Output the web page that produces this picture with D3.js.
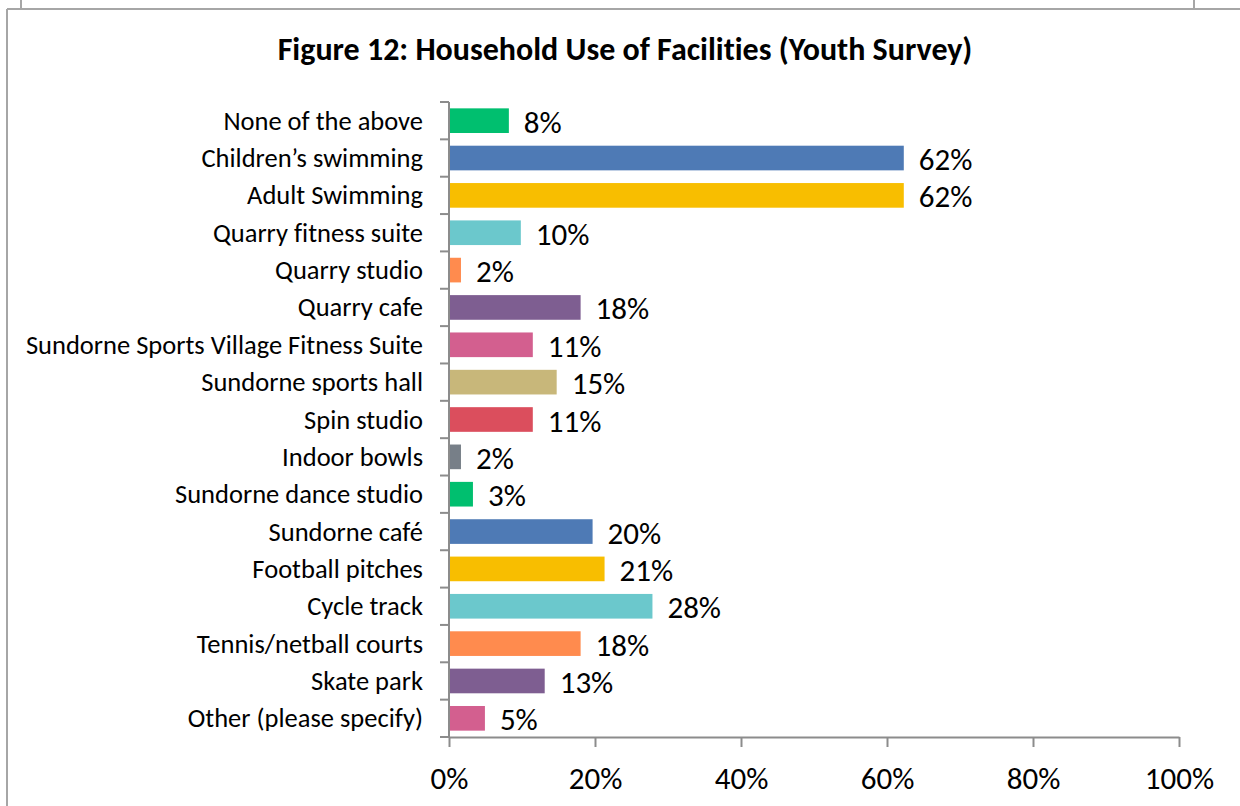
<!DOCTYPE html>
<html>
<head>
<meta charset="utf-8">
<script src="https://cdn.jsdelivr.net/npm/d3@7"></script>
<style>
  html, body { margin: 0; padding: 0; background: #fff; }
  svg { display: block; }
  text { font-family: Carlito, Calibri, "Open Sans", sans-serif; fill: #000; font-variant-ligatures: none; }
</style>
</head>
<body>
<svg id="chart" width="1240" height="806"></svg>
<script>
// Facilities used by the household, share of youth survey respondents (%)
const categories = [
  "None of the above",
  "Children\u2019s swimming",
  "Adult Swimming",
  "Quarry fitness suite",
  "Quarry studio",
  "Quarry cafe",
  "Sundorne Sports Village Fitness Suite",
  "Sundorne sports hall",
  "Spin studio",
  "Indoor bowls",
  "Sundorne dance studio",
  "Sundorne caf\u00e9",
  "Football pitches",
  "Cycle track",
  "Tennis/netball courts",
  "Skate park",
  "Other (please specify)"
];
const values = [8.20, 62.30, 62.30, 9.84, 1.64, 18.03, 11.48, 14.75, 11.48, 1.64, 3.28, 19.67, 21.31, 27.87, 18.03, 13.11, 4.92];
const xTicks = [0, 20, 40, 60, 80, 100];
const palette = ["#00BF6F", "#4E7AB5", "#F8BE00", "#6BC8CC", "#FF8B4E",
                 "#7E5E91", "#D35F8F", "#C8B77A", "#DB4E5D", "#777F88"];
const title = "Figure 12: Household Use of Facilities (Youth Survey)";

const svg = d3.select("#chart");
const frameColor = "#a6a6a6";
const axisColor = "#8c8c8c";
const fontStack = "Carlito, Calibri, 'Open Sans', sans-serif";

// surrounding frame
svg.append("line").attr("x1", 7).attr("x2", 1240).attr("y1", 9).attr("y2", 9)
  .attr("stroke", frameColor).attr("stroke-width", 2);
svg.append("line").attr("x1", 7).attr("x2", 7).attr("y1", 9).attr("y2", 806)
  .attr("stroke", frameColor).attr("stroke-width", 2);
svg.append("line").attr("x1", 21).attr("x2", 21).attr("y1", 0).attr("y2", 9)
  .attr("stroke", frameColor).attr("stroke-width", 2);
svg.append("line").attr("x1", 1194).attr("x2", 1194).attr("y1", 0).attr("y2", 9)
  .attr("stroke", frameColor).attr("stroke-width", 2);

// title
svg.append("text")
  .attr("x", 625).attr("y", 60)
  .attr("text-anchor", "middle")
  .style("font-size", "32px").style("font-weight", "bold")
  .text(title);

const plot = { left: 449, right: 1179, top: 102, bottom: 737 };

const x = d3.scaleLinear().domain([0, 100]).range([plot.left, plot.right]);
const y = d3.scaleBand().domain(categories).range([plot.top, plot.bottom])
  .paddingInner(0.34).paddingOuter(0.17);

// bars
svg.append("g").selectAll("rect")
  .data(categories)
  .join("rect")
  .attr("x", x(0))
  .attr("y", d => y(d))
  .attr("width", (d, i) => x(values[i]) - x(0))
  .attr("height", y.bandwidth())
  .attr("fill", (d, i) => palette[i % palette.length]);

// value labels
const fmt = v => d3.format(".0f")(v) + "%";
svg.append("g").selectAll("text")
  .data(categories)
  .join("text")
  .attr("x", (d, i) => x(values[i]) + 15)
  .attr("y", d => y(d) + y.bandwidth() / 2 + 12)
  .style("font-size", "31px")
  .text((d, i) => fmt(values[i]));

// category axis: tick marks between bands
const yAxis = svg.append("g");
yAxis.append("line")
  .attr("x1", plot.left).attr("x2", plot.left)
  .attr("y1", plot.top).attr("y2", plot.bottom)
  .attr("stroke", axisColor).attr("stroke-width", 2);
const step = y.step();
yAxis.selectAll("line.tick")
  .data(d3.range(categories.length + 1))
  .join("line")
  .attr("class", "tick")
  .attr("x1", plot.left - 9).attr("x2", plot.left)
  .attr("y1", i => plot.top + i * step).attr("y2", i => plot.top + i * step)
  .attr("stroke", axisColor).attr("stroke-width", 2);
yAxis.selectAll("text")
  .data(categories)
  .join("text")
  .attr("x", 423)
  .attr("y", d => y(d) + y.bandwidth() / 2 + 9)
  .attr("text-anchor", "end")
  .style("font-size", "26.5px")
  .text(d => d);

// value axis along the bottom
const xAxis = svg.append("g").attr("transform", `translate(0,${plot.bottom})`)
  .call(d3.axisBottom(x).tickValues(xTicks).tickSize(10).tickSizeOuter(0)
    .tickFormat(d => d + "%"));
xAxis.select(".domain").attr("stroke", axisColor).attr("stroke-width", 2);
xAxis.selectAll(".tick line").attr("stroke", axisColor).attr("stroke-width", 2);
xAxis.selectAll(".tick text")
  .attr("y", 52).attr("dy", null)
  .style("font-size", "31px")
  .style("font-family", fontStack)
  .style("font-variant-ligatures", "none")
  .attr("fill", "#000");
</script>
</body>
</html>
